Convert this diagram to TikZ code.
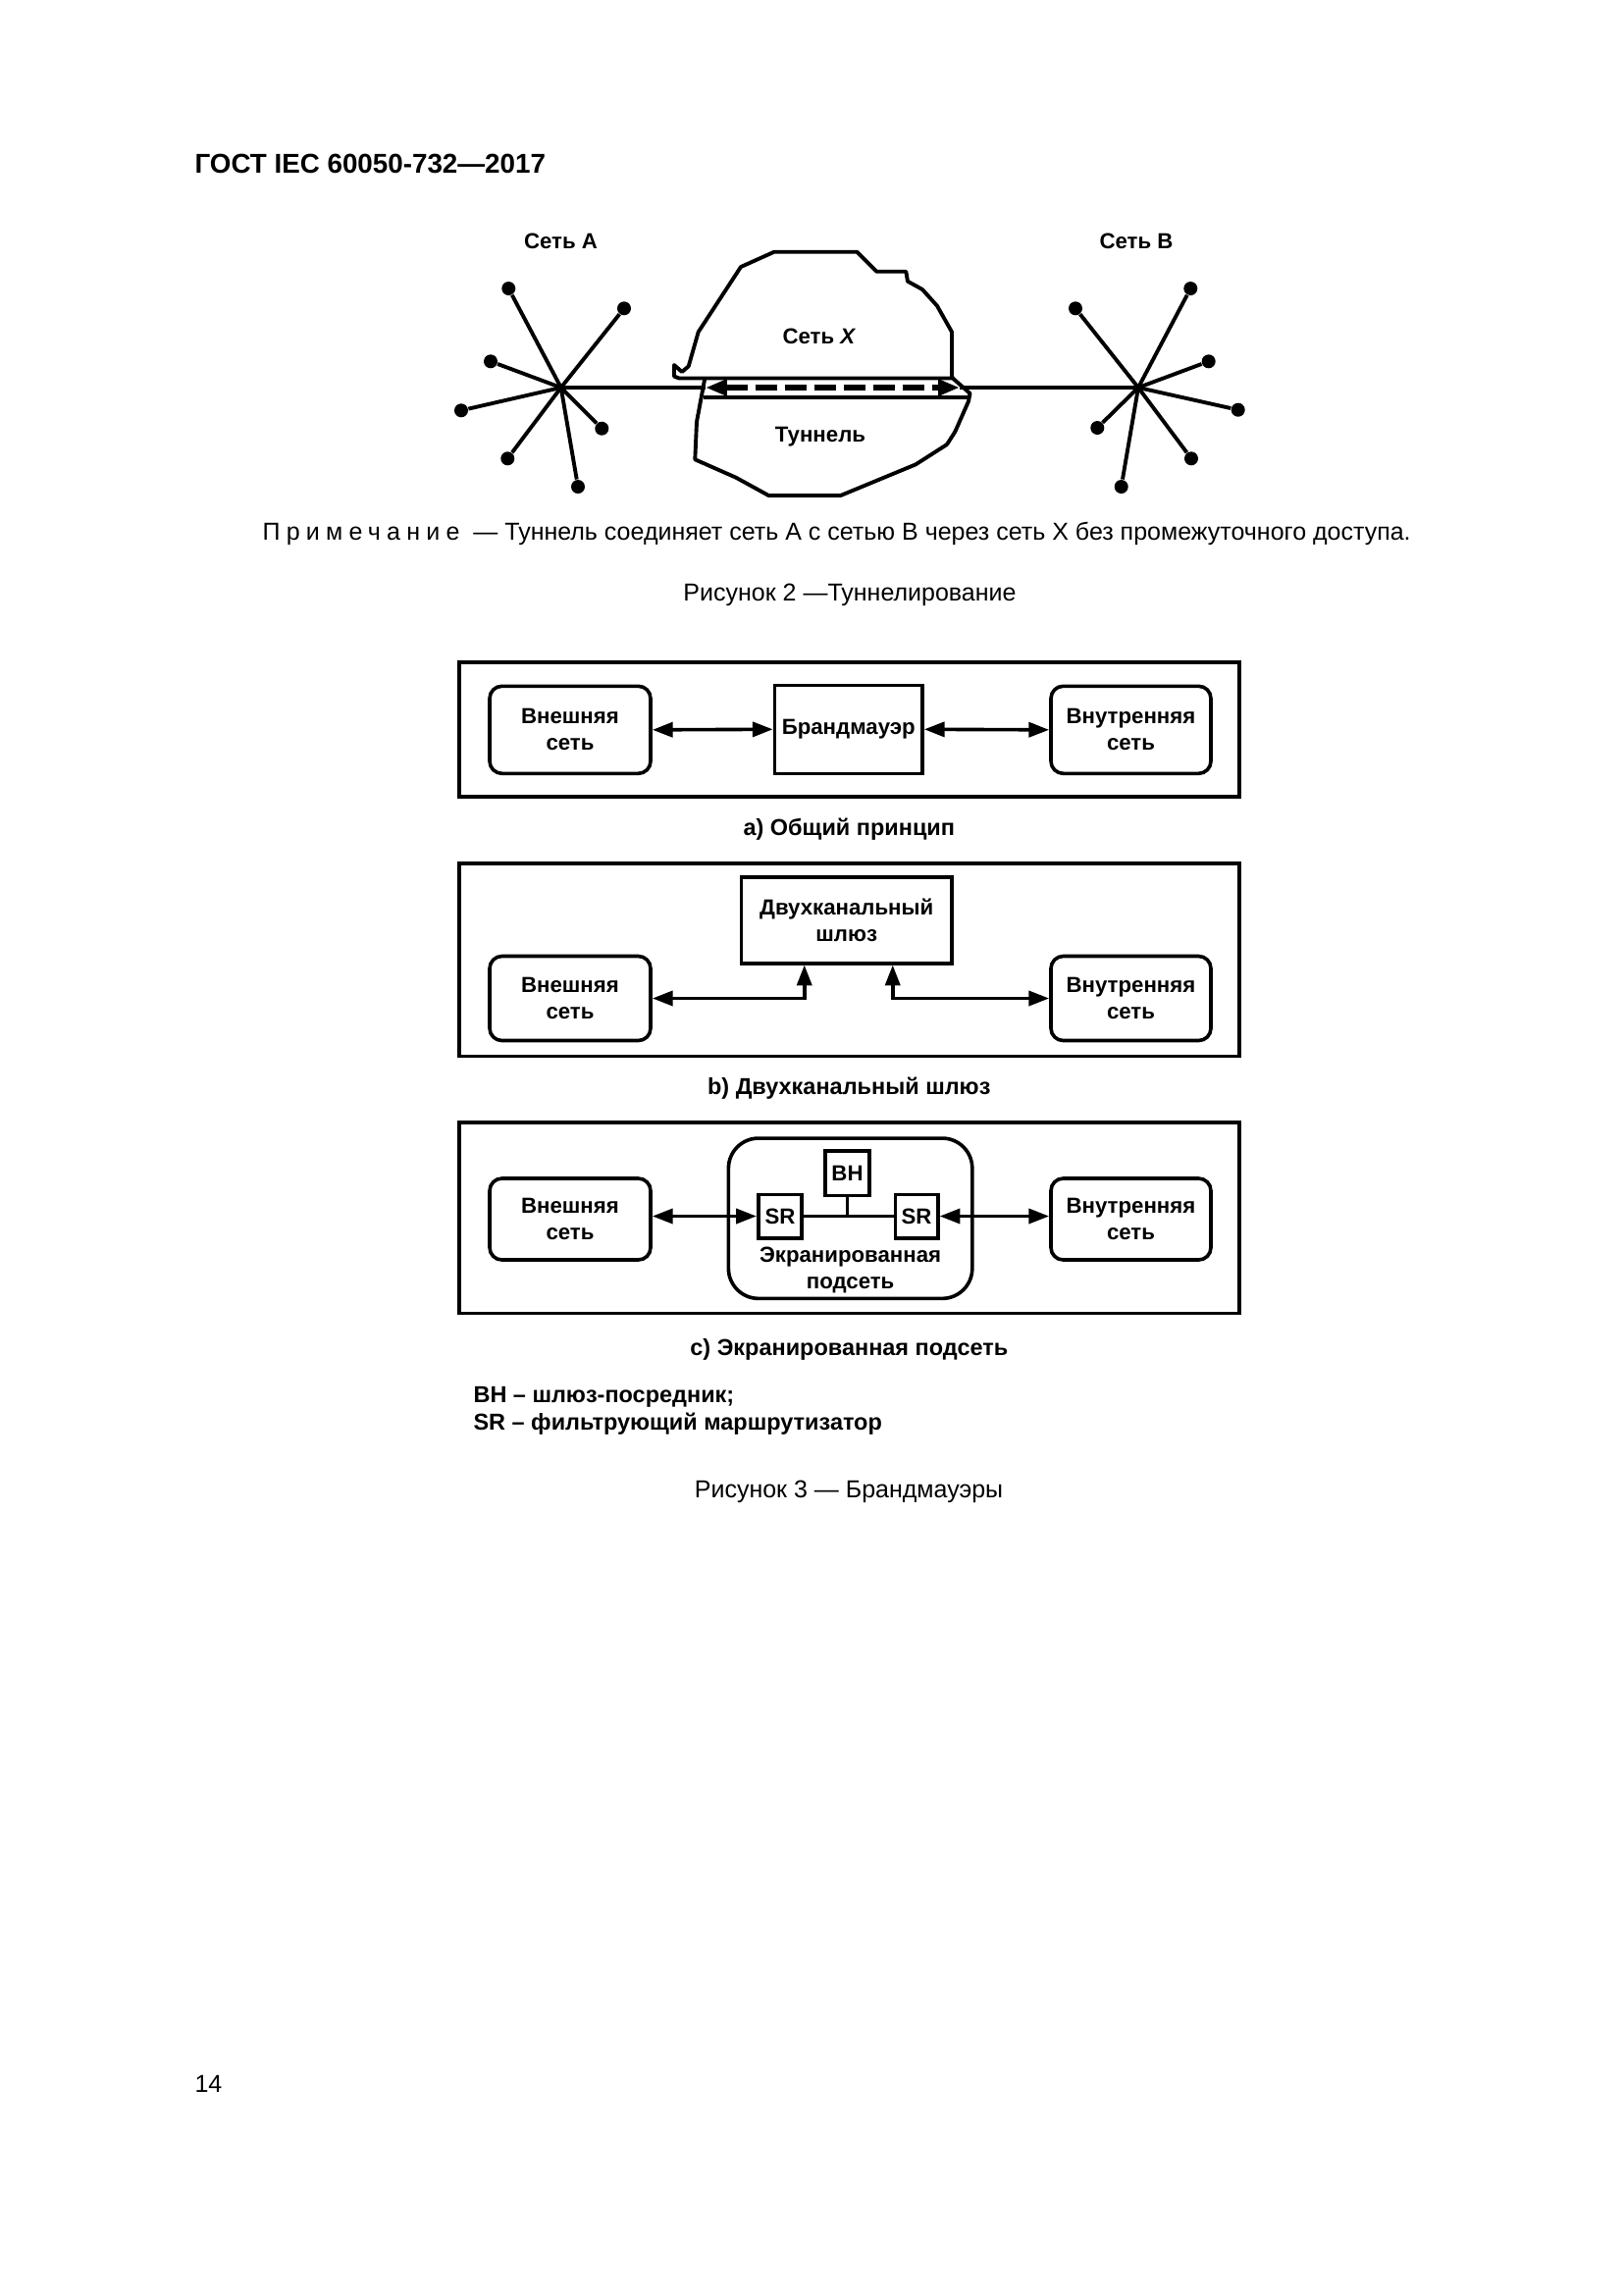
\documentclass[tikz,border=0pt]{standalone}
\usepackage{fontspec}
\setmainfont{Liberation Sans}
\usetikzlibrary{arrows.meta,calc}
\newcommand{\pxu}{0.36pt}
\tikzset{
  outl/.style={line width=1.4pt, line join=round},
  dotn/.style={circle, fill=black, inner sep=0pt, minimum size=14*\pxu},
  lbl/.style={font=\bfseries\fontsize{8}{9.7}\selectfont, align=center, inner sep=0pt},
  caplbl/.style={font=\bfseries\fontsize{8.45}{10}\selectfont, inner sep=0pt},
  txt/.style={font=\fontsize{9}{11}\selectfont, inner sep=0pt},
  panel/.style={draw, line width=1.3pt, inner sep=0pt},
  netbox/.style={draw, line width=1.3pt, rounded corners=4.5pt, align=center,
     font=\bfseries\fontsize{8}{9.7}\selectfont, inner sep=0pt},
  sqbox/.style={draw, line width=1.3pt, align=center,
     font=\bfseries\fontsize{8}{9.7}\selectfont, inner sep=0pt},
  tip/.tip={Triangle[length=7.5pt,width=5.4pt]},
  biarrow/.style={line width=1.3pt, tip-tip},
}
\begin{document}
\begin{tikzpicture}[x=0.36pt,y=-0.36pt]
\useasboundingbox[fill=white] (0,0) rectangle (1654,2339);

% header
\node[anchor=base west, inner sep=0pt, font=\bfseries\fontsize{10}{12}\selectfont] (hdr) at (198,176.7) {ГОСТ IEC 60050-732—2017};

% ---------- Figure 2 ----------
\node[lbl, anchor=base] (la) at (571.5,253) {Сеть А};
\node[lbl, anchor=base] (lb) at (1158,253) {Сеть В};

% clouds
\draw[outl] (687,383.5) -- (687,372) -- (695,379) -- (701.7,373.3) -- (711.7,338.3) -- (755,272)
  -- (789,256.7) -- (873.3,256.7) -- (893.3,276.7) -- (923.3,276.7) -- (925,286.7) -- (940,295)
  -- (955,311.7) -- (970,338.3) -- (970,383.3) -- (971,385.5) -- (692,385.5) -- cycle;
\draw[outl] (971,385.5) -- (988.5,401) -- (987,409) -- (973.3,440) -- (965,453) -- (933.3,473.3)
  -- (856.7,505) -- (783.3,505) -- (750,486.7) -- (708.3,468.3) -- (710,430) -- (718.3,385.5);
\draw[outl] (716.7,405) -- (986,405);

\node[lbl, anchor=base] (lx) at (835,350) {Сеть \textit{X}};
\node[lbl, anchor=base] (lt) at (836,450) {Туннель};

% star A
\coordinate (ca) at (571.7,395);
\foreach \n/\p in {1/{518.3,294},2/{636,314.3},3/{500,368.3},4/{470,418.3},5/{613.3,436.7},6/{517.3,467.3},7/{589,496}}{
  \node[dotn] (a\n) at (\p) {};
  \draw[outl] (ca) -- (a\n);
}
% star B
\coordinate (cb) at (1160,395);
\foreach \n/\p in {1/{1096,314.3},2/{1213.3,294},3/{1231.7,368.3},4/{1261.7,417.7},5/{1118.3,436},6/{1214,467.3},7/{1142.7,496}}{
  \node[dotn] (b\n) at (\p) {};
  \draw[outl] (cb) -- (b\n);
}
% tunnel
\coordinate (tL) at (719,395);
\coordinate (tR) at (978,395);
\draw[line width=1.3pt] (ca) -- (tL);
\draw[line width=1.3pt] (tR) -- (cb);
\draw[line width=2.3pt, dash pattern=on 7.9pt off 2.9pt,
  {Triangle[length=7.9pt,width=5.8pt]}-{Triangle[length=7.9pt,width=5.8pt]}] (tL) -- (tR);

% note and caption
\node[txt, anchor=base west] (note) at (267,550) {{\addfontfeature{LetterSpace=25}Примечание}\space\space — Туннель соединяет сеть А с сетью В через сеть X без промежуточного доступа.};
\node[txt, anchor=base] (cap2) at (866,612) {Рисунок 2 —Туннелирование};

% ---------- Figure 3 a ----------
\node[panel, minimum width=795*\pxu, minimum height=136.7*\pxu] (pa) at (865.3,743.4) {};
\node[netbox, minimum width=164*\pxu, minimum height=89*\pxu] (extA) at (581,743.8) {Внешняя\\сеть};
\node[sqbox, minimum width=150.5*\pxu, minimum height=90*\pxu] (fw) at (864.75,743.3) {Брандмауэр};
\node[netbox, minimum width=163*\pxu, minimum height=89*\pxu] (intA) at (1152.5,743.8) {Внутренняя\\сеть};
\draw[biarrow] (extA.east) -- (fw.west);
\draw[biarrow] (fw.east) -- (intA.west);
\node[caplbl, anchor=base] (capa) at (865.3,851) {a) Общий принцип};

% ---------- Figure 3 b ----------
\node[panel, minimum width=795*\pxu, minimum height=196.7*\pxu] (pb) at (865.3,978.3) {};
\node[netbox, minimum width=164*\pxu, minimum height=86*\pxu] (extB) at (581,1017.5) {Внешняя\\сеть};
\node[sqbox, minimum width=214.5*\pxu, minimum height=87.7*\pxu] (gw) at (862.75,937.85) {Двухканальный\\шлюз};
\node[netbox, minimum width=163*\pxu, minimum height=86*\pxu] (intB) at (1152.5,1017.5) {Внутренняя\\сеть};
\draw[biarrow] (extB.east) -| ([xshift=-43*\pxu]gw.south);
\draw[biarrow] ([xshift=47*\pxu]gw.south) |- (intB.west);
\node[caplbl, anchor=base] (capb) at (865.3,1115) {b) Двухканальный шлюз};

% ---------- Figure 3 c ----------
\node[panel, minimum width=795*\pxu, minimum height=194.3*\pxu] (pc) at (865.3,1241.2) {};
\node[netbox, minimum width=164*\pxu, minimum height=83*\pxu] (extC) at (581,1242.5) {Внешняя\\сеть};
\node[netbox, minimum width=163*\pxu, minimum height=83*\pxu] (intC) at (1152.5,1242.5) {Внутренняя\\сеть};
\node[draw, line width=1.3pt, rounded corners=11pt, minimum width=248.4*\pxu, minimum height=163.3*\pxu] (scr) at (866.6,1241.7) {};
\node[sqbox, minimum width=45.5*\pxu, minimum height=45.6*\pxu] (bh) at (863.5,1195.5) {BH};
\node[sqbox, minimum width=44.4*\pxu, minimum height=44.4*\pxu] (srL) at (795,1239.5) {SR};
\node[sqbox, minimum width=43.4*\pxu, minimum height=44.4*\pxu] (srR) at (934.1,1239.5) {SR};
\draw[line width=1.3pt] (srL.east) -- (srR.west);
\draw[line width=1.3pt] (bh.south) -- (bh.south |- srL.east);
\draw[biarrow] (extC.east |- srL.west) -- (srL.west);
\draw[biarrow] (srR.east) -- (intC.west |- srR.east);
\node[lbl, anchor=base] (scrl) at (866.6,1313) {Экранированная\\подсеть};
\node[caplbl, anchor=base] (capc) at (865.3,1381) {c) Экранированная подсеть};

\node[caplbl, anchor=base west] (leg1) at (482,1429) {BH – шлюз-посредник;};
\node[caplbl, anchor=base west] (leg2) at (482,1457) {SR – фильтрующий маршрутизатор};

\node[txt, anchor=base] (cap3) at (865,1526) {Рисунок 3 — Брандмауэры};
\node[txt, anchor=base west] (pg) at (198,2132) {14};
\end{tikzpicture}
\end{document}
